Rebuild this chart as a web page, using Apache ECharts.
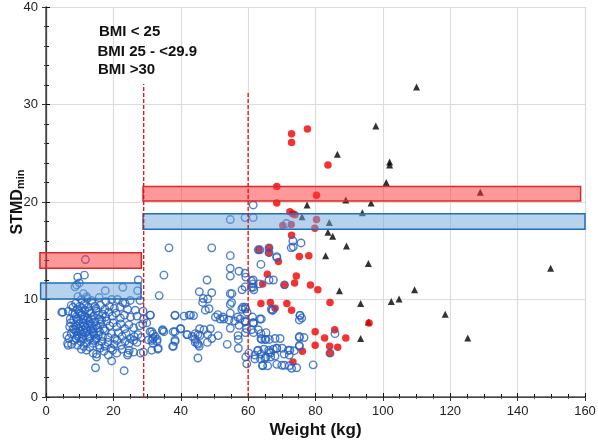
<!DOCTYPE html>
<html><head><meta charset="utf-8">
<script src="https://cdn.jsdelivr.net/npm/echarts@6/dist/echarts.min.js"></script>
<style>html,body{margin:0;padding:0;background:#fff}#c{width:598px;height:444px}</style>
</head><body><div id="c"></div>
<script>
// Blue open circles: BMI < 25  [weight kg, STMDmin]
const bmiUnder25 = [
 [11.7,14.1],[9.4,12.3],[11.4,12.5],[9.9,11.7],[8.6,11.3],[9.1,11.5],[27.4,12.0],[27.2,10.9],[22.8,11.25],[17.6,10.9],[11.1,10.6],[12.1,10.3],
 [27.9,9.9],[28.8,8.8],[29,8.0],[28.7,7.5],[21.2,10.0],[22.8,9.7],[4.7,8.7],
 [9.5,10.3],[10.5,10.0],[12.2,10.1],[13.5,9.9],[15.8,10.2],[17.8,9.8],[19.5,10.0],[23.5,9.6],[25.0,9.9],
 [7.5,9.4],[8.8,9.6],[10.0,9.3],[11.3,9.5],[12.5,9.2],[13.8,9.6],[14.9,9.1],[16.2,9.4],[17.5,9.0],[18.8,9.3],[20.3,9.1],[22.0,9.2],[24.2,9.0],[26.5,8.9],[5.0,8.7],[6.6,8.8],
 [7.9,8.6],[8.9,8.2],[9.8,8.8],[10.6,8.4],[11.5,8.9],[12.3,8.1],[13.2,8.6],[14.1,8.3],[15.0,8.8],[15.9,8.0],[16.8,8.5],[17.7,8.2],[18.6,8.7],[19.7,8.3],[20.8,8.6],[22.1,8.1],[23.3,8.4],[25.1,8.2],[27.0,8.3],[9.2,8.0],[11.0,8.0],
 [7.3,7.6],[8.2,7.9],[8.9,7.3],[9.6,7.8],[10.3,7.2],[11.1,7.6],[11.9,7.1],[12.8,7.8],[13.6,7.3],[14.5,7.7],[15.3,7.1],[16.2,7.5],[17.1,7.0],[18.0,7.8],[18.9,7.3],[19.9,7.6],[21.0,7.2],[22.2,7.5],[23.4,7.0],[24.6,7.4],[26.0,7.1],[27.8,7.3],[8.0,7.0],[10.0,7.5],[12.0,7.9],[14.0,7.0],
 [7.5,6.5],[8.4,6.9],[9.2,6.3],[10.0,6.8],[10.8,6.1],[11.7,6.6],[12.5,6.2],[13.3,6.9],[14.2,6.4],[15.0,6.0],[15.9,6.7],[16.8,6.2],[17.6,6.8],[18.5,6.1],[19.4,6.5],[20.4,6.0],[21.5,6.6],[22.6,6.2],[23.8,6.5],[25.0,6.0],[26.2,6.2],[27.3,6.4],[28.2,6.1],[6.2,6.3],[9.0,6.0],[13.0,6.0],
 [6.6,5.3],[7.6,5.4],[8.5,5.8],[9.4,5.3],[10.3,5.7],[11.2,5.2],[12.1,5.6],[13.0,5.1],[13.9,5.5],[14.8,5.9],[15.7,5.3],[16.6,5.7],[17.5,5.2],[18.4,5.6],[19.3,5.0],[20.2,5.4],[21.1,5.8],[22.3,5.3],[23.5,5.7],[24.7,5.5],[26.0,5.8],[27.0,5.6],[11.0,5.95],[16.0,5.0],
 [12.0,4.8],[14.0,4.5],[15.0,4.4],[15.0,4.1],[17.2,4.7],[18.5,4.3],[19.8,4.8],[21.0,4.5],[22.5,4.9],[24.2,4.3],[24.4,4.5],[24.7,4.8],[26.0,4.6],[28.1,4.5],[28.9,4.6],[10.5,4.9],
 [14.7,3.0],[19.5,3.7],[23.2,2.7],
 [9.3,9.0],[10.2,8.6],[10.8,9.1],[11.6,8.3],[12.7,8.8],[13.5,8.0],[14.5,9.3],[9.6,7.0],[10.5,6.5],[11.4,7.3],[12.2,6.8],[13.1,7.5],[14.0,6.7],[14.8,7.3],[15.6,8.4],[16.5,7.9],
 [9.0,6.7],[9.8,6.1],[11.0,6.9],[12.9,6.5],[14.4,5.8],[15.5,6.3],[8.6,8.5],[8.0,9.2],[7.2,8.0],[7.0,7.2],[6.8,6.0],[6.4,5.5],
 [31,8.4],[29.9,7.6],[38.3,8.4],[41,8.3],[42.9,8.4],[39.9,7.0],[30.4,5.85],[31.8,6.0],[31.4,6.7],[32.9,5.7],[33.3,5.0],[37.8,6.7],[38.3,5.85],[37.6,5.2],
 [41.8,6.4],[44.2,5.95],[44.9,5.5],[45.1,4.0],
 [61.5,19.7],[54.7,18.2],[59.1,18.4],[61.5,18.4],[71.4,17.8],[36.5,15.3],[49.2,15.3],[54.7,14.5],[63,15.1],[66.2,14.8],[68.5,14.3],[73.3,16.0],[75.7,15.8],[72.8,15.3],
 [63.8,13.6],[54.7,13.2],[57.3,12.9],[59.1,12.7],[54.7,12.4],[47.8,12.0],[35,12.5],[66.2,12.0],[61.5,12.0],[59.3,12.3],[58.2,11.0],[61.5,11.25],[33.6,10.4],[45.5,10.8],[49.2,10.7],
 [46.7,10.1],[46.5,9.7],[48,10.05],[47.3,8.9],[48.4,9.05],[54.7,10.6],[55.2,10.6],[54.7,9.5],[55.1,9.7],[59.1,9.2],[59.1,11.3],
 [30.9,8.4],[38.3,8.35],[42.5,8.4],[43.8,8.35],[51,8.45],[51.7,8.0],[52.5,8.2],[52.8,8.0],[50.3,8.2],[54.7,8.6],[54.3,7.9],[56,7.8],[56.9,8.2],[58.1,9.0],[58.4,9.2],[57.6,8.0],[59.2,9.05],[59.7,8.7],[59.1,7.8],
 [61.3,8.2],[61.6,7.6],[63.9,8.0],[66.9,9.0],[67.3,8.9],[75.4,8.35],[75.9,8.1],
 [30.9,6.7],[31.8,6.45],[32.4,6.2],[31.4,5.8],[31.8,5.5],[33,5.9],[34.6,6.8],[35,6.7],[34.6,6.9],[38.3,6.7],[40,7.0],[38.3,5.7],[37.8,5.2],[33.2,4.9],[31.4,4.8],
 [42,6.4],[43.4,6.2],[44.3,6.5],[45.1,6.4],[44.3,5.6],[45.7,6.3],[45.2,5.4],[45.6,7.0],[46.9,6.9],[48.8,7.0],[49.2,6.0],[48,6.4],[47.9,5.6],[45.5,5.2],[51.1,6.3],[53.8,5.4],
 [54.7,7.05],[57.3,7.35],[57,6.3],[57.1,5.9],[59.1,7.7],[59.2,6.6],[59.5,7.0],[57.1,5.0],[59.3,4.1],[59.6,3.4],[60.2,4.5],
 [61.5,7.6],[61.6,6.6],[63.8,6.5],[63.8,6.0],[65,5.9],[62.8,4.75],[63.8,4.4],[65,4.0],[66.1,4.8],[66.7,4.5],[66.3,4.6],[68,6.0],[68.5,5.0],[62,3.9],[64.3,3.25],[68.5,3.35],
 [70.7,4.4],[71.9,4.8],[70.8,3.25],[72.9,2.95],[75.2,6.2],[75.2,5.3],[79.3,3.3],[84.3,4.5],[85.8,6.5],[70.8,11.5],[63.5,15.1],[66.2,15.3],
 [61,11.9],[61.5,11.6],[61,11.25],[61.7,11.0],[67.5,12.0],[63.3,11.6],[67.2,8.9],[75.4,8.4],[75.2,7.9],[63.5,8.0],[61.5,7.6],[61,6.9],[63,6.9],[65.3,6.6],[65.3,5.9],[66.3,5.9],[69.5,6.0],[64,5.9],
 [76.6,6.1],[75.2,6.1],[75.2,5.2],[63,4.8],[64.7,4.9],[67.5,4.9],[68.5,5.0],[70.1,5.0],[72.4,4.8],[73.7,4.75],[62,4.3],[63.7,3.9],[65.3,4.1],[66.7,4.1],[68,4.2],[72.2,4.3],
 [64.3,3.2],[65.8,3.2],[70,3.25],[72.2,3.2],[74.4,3.0],[73.4,15.4],[68.5,14.4]
];
// Red filled circles: BMI 25 - <29.9
const bmi25to30 = [
 [72.9,27.0],[72.9,26.1],[77.6,27.5],[83.7,23.8],[68.5,21.6],[80.3,20.7],[68.5,19.9],[72.4,19.0],[73.2,18.8],[73.9,18.7],[80.3,18.2],[70.3,17.6],[72.8,17.7],[79.8,17.3],[72.9,16.6],
 [75.2,14.4],[78,14.5],[69,13.9],[65.7,12.6],[74.3,12.4],[63.2,15.1],[66.2,15.3],[66.2,14.8],[64.3,11.6],[73.8,11.7],[78.5,11.5],[80.7,11.0],[70.8,11.5],
 [63.8,9.6],[66.6,9.7],[68,9.1],[71.5,9.6],[72.9,8.9],[84.3,9.7],[95.9,7.6],[79.9,6.7],[85.7,6.9],[82.7,6.05],[89,6.05],[79.9,5.3],[84.2,5.2],[86.6,5.1],[76.1,4.7],[73.3,3.6],[84.3,4.5]
];
// Black triangles: BMI >30
const bmiOver30 = [
 [110,31.8],[97.9,27.8],[86.5,24.9],[102,24.1],[102,23.8],[101,22.0],[89,20.2],[96.5,19.9],[77.5,19.7],[128.9,21.0],[93.9,18.9],[76,18.5],[84.1,17.9],[83.7,16.9],[85.1,16.5],
 [89.2,15.5],[83,14.5],[95.7,13.7],[149.8,13.2],[109.4,11.0],[87.1,10.9],[102.5,9.8],[104.8,10.05],[93.4,9.6],[118.5,8.5],[95.7,7.7],[93.4,6.0],[125.2,6.05]
];
const legendLabels = ['BMI < 25', 'BMI 25 - <29.9', 'BMI >30'];
// mean bands [xStart, xEnd, yLow, yHigh]
const redBands = [[-1.8, 28.3, 13.2, 14.8], [28.8, 158.7, 20.1, 21.6]];
const blueBands = [[-1.6, 28.2, 10.05, 11.7], [28.8, 160, 17.2, 18.8]];
// weight cut-offs [x, yTop]
const cutoffs = [[29, 32.1], [60, 31.2]];
const xRange = [0, 160, 20];
const yRange = [0, 40, 10];

const chart = echarts.init(document.getElementById('c'));
const bandItem = (fill, stroke) => function (params, api) {
  const p0 = api.coord([api.value(0), api.value(3)]);
  const p1 = api.coord([api.value(1), api.value(2)]);
  return {type: 'rect', shape: {x: p0[0], y: p0[1], width: p1[0] - p0[0], height: p1[1] - p0[1]},
    style: {fill: fill, stroke: stroke, lineWidth: 1.5}};
};
const hiddenAxis = {show: true, axisLine: {show: true, lineStyle: {color: '#555', width: 1.6}},
  axisTick: {show: true, inside: true, length: 4, lineStyle: {color: '#333'}},
  axisLabel: {show: false}, splitLine: {show: false}};
chart.setOption({
  animation: false,
  backgroundColor: '#fff',
  grid: {left: 46, right: 13, top: 7, bottom: 47, containLabel: false, outerBoundsMode: 'none'},
  xAxis: [{
    type: 'value', min: xRange[0], max: xRange[1], interval: xRange[2],
    name: 'Weight (kg)', nameLocation: 'middle', nameGap: 25, nameMoveOverlap: false,
    nameTextStyle: {fontFamily: 'Liberation Sans', fontWeight: 'bold', fontSize: 17, color: '#111'},
    axisLine: {lineStyle: {color: '#111', width: 1.2}},
    axisTick: {inside: true, length: 4, lineStyle: {color: '#111'}},
    minorTick: {show: true, splitNumber: 4, length: 3, lineStyle: {color: '#111'}},
    axisLabel: {fontFamily: 'Liberation Sans', fontSize: 13, color: '#222', margin: 8},
    splitLine: {show: true, lineStyle: {color: '#dcdcdc', width: 1.2}}
  }, Object.assign({type: 'value', position: 'top', min: xRange[0], max: xRange[1], interval: xRange[2]}, hiddenAxis, {minorTick: {show: true, splitNumber: 4, length: 2}})],
  yAxis: [{
    type: 'value', min: yRange[0], max: yRange[1], interval: yRange[2],
    name: '{a|STMD}{b|min}', nameLocation: 'middle', nameGap: 20, nameRotate: 90, nameMoveOverlap: false,
    nameTextStyle: {rich: {
      a: {fontFamily: 'Liberation Sans', fontWeight: 'bold', fontSize: 16, color: '#111'},
      b: {fontFamily: 'Liberation Sans', fontWeight: 'bold', fontSize: 11, color: '#111', verticalAlign: 'bottom', padding: [6, 0, 0, 0]}
    }},
    axisLine: {show: true, lineStyle: {color: '#111', width: 1.2}},
    axisTick: {show: true, inside: true, length: 4, lineStyle: {color: '#111'}},
    minorTick: {show: true, splitNumber: 5, length: 3, lineStyle: {color: '#111'}},
    axisLabel: {fontFamily: 'Liberation Sans', fontSize: 13, color: '#222', margin: 8},
    splitLine: {show: true, lineStyle: {color: '#dcdcdc', width: 1.2}}
  }, Object.assign({type: 'value', position: 'right', min: yRange[0], max: yRange[1], interval: yRange[2]}, hiddenAxis, {minorTick: {show: true, splitNumber: 5, length: 2}})],
  graphic: legendLabels.map((t, i) => ({
    type: 'text', left: [99, 97.5, 98][i], top: [24, 44, 62][i], z: 100,
    style: {text: t, font: 'bold 15px "Liberation Sans"', fill: '#111'}
  })),
  series: [
    {type: 'scatter', data: bmiOver30, symbol: 'triangle', symbolSize: 7, z: 2,
     itemStyle: {color: '#000'}},
    {type: 'scatter', data: bmi25to30, symbol: 'circle', symbolSize: 7.5, z: 3,
     itemStyle: {color: '#f00000'}},
    {type: 'scatter', data: bmiUnder25, symbol: 'circle', symbolSize: 7.5, z: 4,
     itemStyle: {color: 'rgba(0,0,0,0)', borderColor: '#2460c0', borderWidth: 1.4}},
    {type: 'custom', data: redBands, z: 5, renderItem: bandItem('rgba(255,50,50,0.5)', '#d82a2a'),
     encode: {x: [0, 1], y: [2, 3]}},
    {type: 'custom', data: blueBands, z: 5, renderItem: bandItem('rgba(110,165,218,0.5)', '#1f6fb8'),
     encode: {x: [0, 1], y: [2, 3]}},
    {type: 'custom', data: cutoffs, z: 6, encode: {x: 0, y: 1},
     renderItem: function (params, api) {
       const a = api.coord([api.value(0), 0]);
       const b = api.coord([api.value(0), api.value(1)]);
       return {type: 'line', shape: {x1: a[0], y1: a[1], x2: b[0], y2: b[1]},
         style: {stroke: '#e01010', lineWidth: 1.3, lineDash: [4, 2]}};
     }}
  ]
});
</script></body></html>
